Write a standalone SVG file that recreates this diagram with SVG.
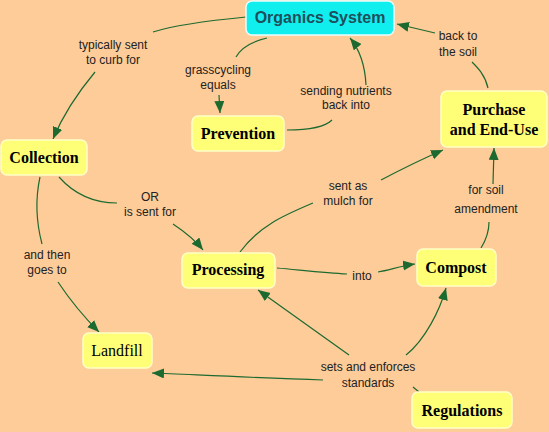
<svg xmlns="http://www.w3.org/2000/svg" width="549" height="432" viewBox="0 0 549 432">
<defs>
<marker id="ah" markerUnits="userSpaceOnUse" markerWidth="13" markerHeight="11" refX="12" refY="5" orient="auto">
<path d="M0,0 L12,5 L0,10 z" fill="#1d6a30"/>
</marker>
<style>
.bg{fill:#fecc99}
.node{fill:#ffff77;stroke:#ffffc8;stroke-width:1.5}
.top{fill:#11eeee;stroke:#e8ffff;stroke-width:1.5}
.nt{font-family:"Liberation Serif",serif;font-size:16px;font-weight:bold;fill:#000;text-anchor:middle}
.nn{font-family:"Liberation Serif",serif;font-size:16px;fill:#000;text-anchor:middle}
.tt{font-family:"Liberation Sans",Arial,sans-serif;font-size:16px;font-weight:bold;fill:#1f4f5a;text-anchor:middle}
.lbl{font-family:"Liberation Sans",Arial,sans-serif;font-size:12px;fill:#222;text-anchor:middle}
.c{fill:none;stroke:#1d6a30;stroke-width:1.2}
.a{marker-end:url(#ah)}
</style>
</defs>
<rect class="bg" x="0" y="0" width="549" height="432"/>
<g id="connectors">
<path class="c" d="M246,17 C215,20 175,25 153,32"/>
<path class="c a" d="M95,72 C80,90 65,110 53,139"/>
<path class="c" d="M267,38 C250,42 240,50 236,57"/>
<path class="c a" d="M219,95 L220,113"/>
<path class="c" d="M287,130 C310,130 325,127 332,120"/>
<path class="c a" d="M366,85 C365,65 360,50 350,38"/>
<path class="c" d="M488,88 C485,75 478,68 472,62"/>
<path class="c a" d="M435,33 L397,24"/>
<path class="c" d="M59,177 C75,195 95,203 117,203"/>
<path class="c a" d="M173,224 C185,232 195,240 203,250"/>
<path class="c" d="M40,177 C35,200 37,225 42,244"/>
<path class="c a" d="M58,282 C70,300 85,318 99,332"/>
<path class="c" d="M240,252 C260,225 285,215 313,203"/>
<path class="c a" d="M381,180 C400,170 420,160 443,150"/>
<path class="c" d="M277,268 C300,270 325,273 347,274"/>
<path class="c a" d="M378,272 C390,270 400,266 415,264"/>
<path class="c" d="M481,248 C486,240 489,230 489,222"/>
<path class="c a" d="M493,184 L494,148"/>
<path class="c" d="M419,392 L413,387"/>
<path class="c a" d="M323,380 C260,378 200,375 152,373"/>
<path class="c a" d="M349,355 L258,290"/>
<path class="c a" d="M406,355 C425,340 440,310 446,288"/>
<text class="lbl" x="113" y="49">typically sent</text>
<text class="lbl" x="113" y="64">to curb for</text>
<text class="lbl" x="218" y="74">grasscycling</text>
<text class="lbl" x="218" y="89">equals</text>
<text class="lbl" x="346" y="95">sending nutrients</text>
<text class="lbl" x="346" y="109">back into</text>
<text class="lbl" x="458" y="40">back to</text>
<text class="lbl" x="458" y="56">the soil</text>
<text class="lbl" x="150" y="201">OR</text>
<text class="lbl" x="150" y="216">is sent for</text>
<text class="lbl" x="47" y="259">and then</text>
<text class="lbl" x="47" y="274">goes to</text>
<text class="lbl" x="348" y="190">sent as</text>
<text class="lbl" x="348" y="205">mulch for</text>
<text class="lbl" x="486" y="194">for soil</text>
<text class="lbl" x="486" y="213">amendment</text>
<text class="lbl" x="362" y="280">into</text>
<text class="lbl" x="368" y="371">sets and enforces</text>
<text class="lbl" x="368" y="387">standards</text>
</g>
<g id="organics">
<rect class="top" x="246" y="1" width="148" height="34" rx="6"/>
<text class="tt" x="320" y="23">Organics System</text>
</g>
<g id="collection">
<rect class="node" x="1" y="140" width="86" height="35" rx="6"/>
<text class="nt" x="44" y="163">Collection</text>
</g>
<g id="prevention">
<rect class="node" x="192" y="116" width="92" height="35" rx="6"/>
<text class="nt" x="238" y="139">Prevention</text>
</g>
<g id="purchase">
<rect class="node" x="441" y="91" width="106" height="56" rx="6"/>
<text class="nt" x="494" y="115">Purchase</text>
<text class="nt" x="494" y="135">and End-Use</text>
</g>
<g id="processing">
<rect class="node" x="182" y="253" width="93" height="35" rx="6"/>
<text class="nt" x="228" y="275">Processing</text>
</g>
<g id="compost">
<rect class="node" x="417" y="249" width="79" height="37" rx="6"/>
<text class="nt" x="456" y="273">Compost</text>
</g>
<g id="landfill">
<rect class="node" x="83" y="333" width="69" height="35" rx="6"/>
<text class="nn" x="117" y="356">Landfill</text>
</g>
<g id="regulations">
<rect class="node" x="412" y="392" width="100" height="36" rx="6"/>
<text class="nt" x="462" y="416">Regulations</text>
</g>
</svg>
